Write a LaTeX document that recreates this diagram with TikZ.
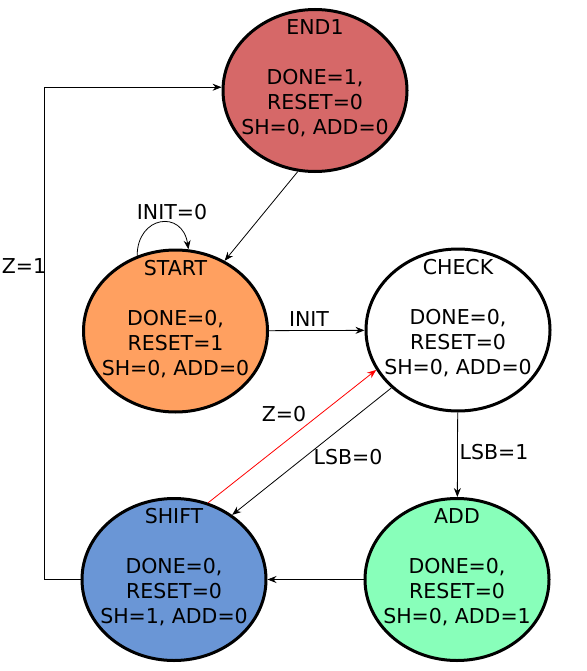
\documentclass[tikz,border=0pt]{standalone}
\usepackage{fontspec}
\setmainfont{DejaVu Sans}
\usetikzlibrary{arrows.meta,positioning,shapes.geometric,calc}
\definecolor{endred}{RGB}{214,104,104}
\definecolor{startorange}{RGB}{255,160,96}
\definecolor{shiftblue}{RGB}{106,150,214}
\definecolor{addgreen}{RGB}{136,255,186}

\begin{document}
\begin{tikzpicture}[
  x=1pt, y=-1pt, >={Stealth[length=9pt,width=7pt,inset=3pt]},
  st/.style={draw=black, line width=3pt, ellipse, minimum width=184pt,
             minimum height=162pt, inner sep=0pt},
  sttext/.style={align=center, inner sep=0pt, yshift=-3pt,
             font=\fontsize{20.5}{25}\selectfont},
  lbl/.style={inner sep=0pt, font=\fontsize{20.5}{25}\selectfont},
  every edge/.style={draw=black, line width=0.8pt, ->}]
\useasboundingbox (0,0) rectangle (586,671);
% states
\node[st, fill=endred] (end1) at (315,90.5) {};
\node[st, fill=startorange] (start) at (175.5,331) {};
\node[st, fill=white] (check) at (458,330) {};
\node[st, fill=shiftblue] (shift) at (174,579.5) {};
\node[st, fill=addgreen] (add) at (457,579.5) {};
% state outputs
\node[sttext] (end1-t) at (end1) {END1\\ \\DONE=1,\\RESET=0\\SH=0, ADD=0\\\strut};
\node[sttext] (start-t) at (start) {START\\ \\DONE=0,\\RESET=1\\SH=0, ADD=0\\\strut};
\node[sttext] (check-t) at (check) {CHECK\\ \\DONE=0,\\RESET=0\\SH=0, ADD=0\\\strut};
\node[sttext] (shift-t) at (shift) {SHIFT\\ \\DONE=0,\\RESET=0\\SH=1, ADD=0\\\strut};
\node[sttext] (add-t) at (add) {ADD\\ \\DONE=0,\\RESET=0\\SH=0, ADD=1\\\strut};
% transitions
\path (end1.258) edge (start.55);
\draw[line width=0.8pt, ->] (start.117) .. controls +(0,-40) and +(-6,-40) .. (start.81);
\node[lbl] (init0) at (172,212) {INIT=0};
\path (start) edge (check);
\node[lbl] (init) at (309,319) {INIT};
\path (check.221) edge (shift.48);
\node[lbl] (lsb0) at (348,457) {LSB=0};
\path (shift.66) edge[draw=red] (check.206);
\node[lbl] (z0) at (284,414) {Z=0};
\path (check) edge (add);
\node[lbl] (lsb1) at (494,452) {LSB=1};
\path (add) edge (shift);
\draw[line width=0.8pt, ->] (shift.west) -- ++(-36,0) |- (end1.178);
\node[lbl] (z1) at (24,266) {Z=1};
\end{tikzpicture}
\end{document}
